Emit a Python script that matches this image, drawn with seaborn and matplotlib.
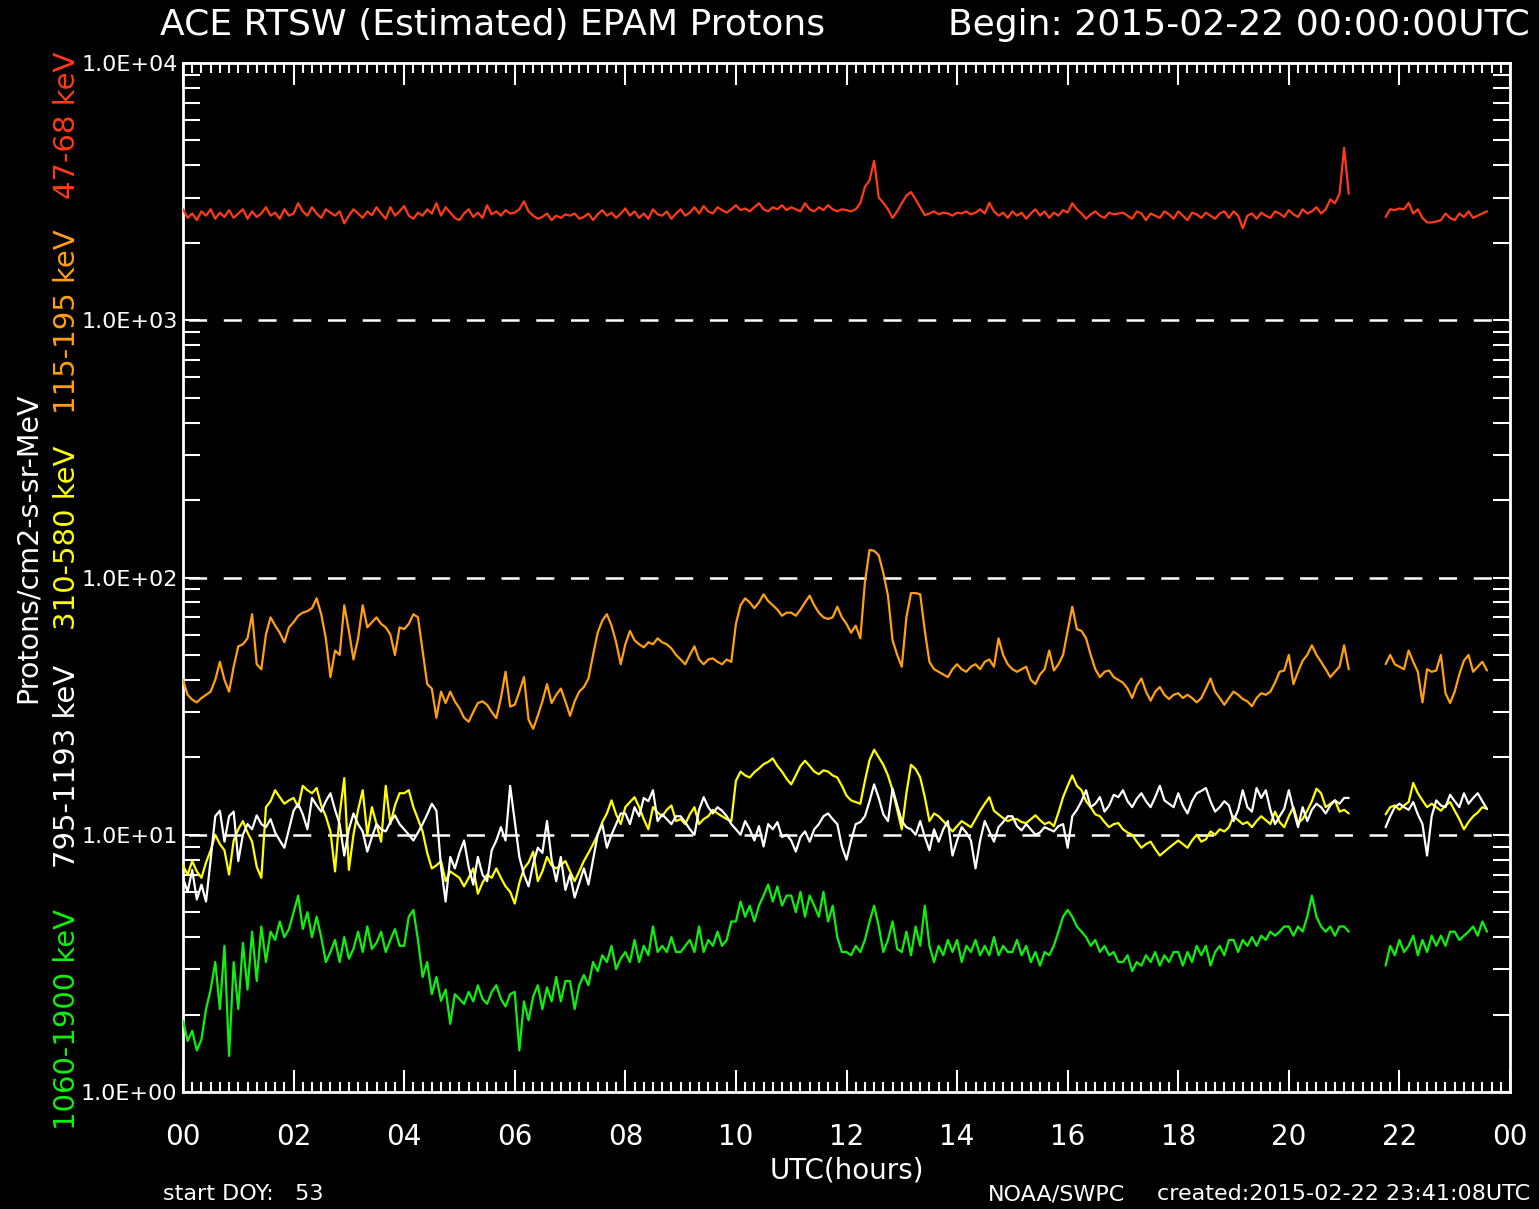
import numpy as np
import pandas as pd
import matplotlib
matplotlib.use("Agg")
import matplotlib.pyplot as plt
import matplotlib.ticker as mticker
import seaborn as sns

nan = np.nan

# 5-minute samples starting 2015-02-22 00:00 UTC, one row of 12 per hour
hours = np.arange(284) / 12.0

p47_68 = [
    2700, 2500, 2600, 2450, 2650, 2550, 2700, 2480, 2620, 2520, 2680, 2500,
    2600, 2700, 2480, 2650, 2520, 2600, 2750, 2550, 2620, 2480, 2700, 2550,
    2600, 2850, 2650, 2550, 2750, 2600, 2500, 2700, 2620, 2550, 2650, 2380,
    2550, 2700, 2600, 2500, 2650, 2560, 2750, 2600, 2480, 2750, 2550, 2650,
    2780, 2550, 2480, 2620, 2550, 2700, 2600, 2850, 2550, 2750, 2620, 2500,
    2450, 2600, 2700, 2520, 2620, 2500, 2800, 2580, 2650, 2550, 2680, 2600,
    2620, 2700, 2900, 2650, 2550, 2480, 2520, 2600, 2450, 2550, 2500, 2580,
    2550, 2600, 2480, 2520, 2600, 2450, 2580, 2680, 2550, 2620, 2500, 2600,
    2720, 2550, 2650, 2500, 2600, 2480, 2700, 2580, 2550, 2650, 2480, 2600,
    2700, 2550, 2620, 2750, 2600, 2780, 2650, 2600, 2750, 2680, 2620, 2700,
    2800, 2680, 2720, 2650, 2750, 2850, 2700, 2650, 2750, 2700, 2800, 2680,
    2750, 2700, 2650, 2850, 2700, 2650, 2750, 2680, 2800, 2700, 2650, 2700,
    2680, 2650, 2700, 2850, 3300, 3500, 4170, 3000, 2860, 2700, 2500, 2650,
    2850, 3050, 3150, 2950, 2750, 2560, 2600, 2650, 2580, 2620, 2600, 2550,
    2620, 2600, 2650, 2580, 2620, 2700, 2600, 2860, 2650, 2550, 2620, 2500,
    2650, 2550, 2620, 2480, 2600, 2700, 2550, 2650, 2500, 2620, 2550, 2680,
    2620, 2850, 2700, 2600, 2480, 2580, 2650, 2550, 2500, 2620, 2580, 2600,
    2620, 2550, 2480, 2650, 2600, 2450, 2600, 2550, 2500, 2650, 2580, 2480,
    2650, 2550, 2450, 2620, 2580, 2500, 2620, 2550, 2480, 2600, 2650, 2500,
    2650, 2550, 2280, 2550, 2600, 2480, 2620, 2550, 2500, 2650, 2600, 2520,
    2680, 2580, 2520, 2700, 2600, 2650, 2750, 2600, 2700, 2950, 2850, 3100,
    4680, 3100, nan, nan, nan, nan, nan, nan, nan, 2520, 2700, 2680,
    2720, 2700, 2860, 2600, 2700, 2500, 2400, 2400, 2420, 2450, 2600, 2500,
    2450, 2600, 2520, 2650, 2500, 2550, 2600, 2650,
]

p115_195 = [
    40, 35, 33.5, 32.7, 34, 35, 36, 40, 47, 40, 36, 45,
    54, 55, 58, 72, 46, 44, 60, 70, 65, 61, 56, 64,
    67, 71, 73, 74, 76, 83, 72, 58, 41, 52, 50, 78,
    62, 48, 58, 78, 64, 67, 70, 66, 64, 60, 50, 64,
    63, 66, 72, 70, 52, 38.5, 37, 28.5, 36, 32.5, 36, 33,
    31, 28.5, 27.5, 30, 32.5, 33, 32, 30, 28.4, 34, 43, 31.5,
    32, 36, 41, 28, 25.8, 29, 33, 38.5, 32.5, 35, 37, 33,
    29, 33, 36, 37.5, 40.5, 50, 61, 68, 72, 65, 56, 46,
    55, 62, 57, 55, 53.5, 56, 55, 58, 56, 55, 53, 50,
    48, 46, 50, 54, 48, 46, 48, 48.5, 47, 46, 48, 47,
    66, 78, 83, 80, 76, 80, 86, 81, 78, 75, 71, 73,
    73, 71, 75, 80, 85, 78, 73, 70, 69, 70, 77, 70,
    66, 61, 65, 58, 96, 128, 127, 122, 104, 85, 57, 50,
    45, 70, 87, 87, 86, 62, 47, 44, 43, 42, 41, 44,
    46, 44, 43, 45, 46, 44, 47, 48, 45, 58, 50, 46,
    44, 43, 44, 45, 40, 38.5, 42, 44, 52, 43.5, 46, 50,
    62, 77, 63, 62, 58, 50, 44, 41, 43, 43.5, 41, 40,
    39, 37, 34, 38, 40.5, 36, 33.2, 36, 37.5, 35, 33.7, 35,
    35.5, 34, 35, 34, 32.7, 34, 37, 40.5, 36, 34, 32, 34,
    36, 35, 33.7, 33, 31.6, 34, 35.5, 35, 36, 39, 43, 43.5,
    50, 38.5, 43, 47.5, 50, 54.5, 50, 47, 44, 41, 43, 45,
    54.5, 44, nan, nan, nan, nan, nan, nan, nan, 46, 50, 46,
    45, 44, 52, 47, 43, 32.7, 44, 43, 43.5, 50, 35.5, 32.5,
    36, 42, 47.5, 50, 43, 45, 47, 43.5,
]

p310_580 = [
    7.6, 7.0, 7.9, 7.2, 6.8, 7.8, 8.7, 10, 9.2, 8.7, 7.0, 9.5,
    10.5, 11.3, 10.2, 9.4, 7.5, 6.8, 12.8, 13.5, 14.9, 14.0, 13.2, 13.6,
    13.9, 12.8, 15.5, 14.9, 14.5, 15.2, 13.0, 11.8, 10.3, 7.2, 12.0, 16.6,
    7.3, 10, 12.5, 14.9, 10, 12.8, 11.0, 9.4, 15.5, 11, 13.0, 14.5,
    14.5, 14.9, 12.8, 11.5, 10.3, 8.5, 7.4, 7.6, 7.9, 6.6, 7.2, 7.0,
    6.8, 6.3, 6.8, 7.4, 5.9, 6.5, 7.0, 6.8, 7.4, 6.8, 6.3, 6.0,
    5.4, 6.5, 7.4, 7.8, 8.6, 6.6, 7.2, 8.2, 7.6, 7.4, 7.6, 7.9,
    7.2, 6.6, 7.2, 7.9, 8.5, 9.2, 10, 11.2, 12.1, 13.6, 12.0, 11,
    12.8, 13.4, 14, 12.8, 11.5, 10.5, 12.8, 12.2, 11.8, 12.5, 13, 11.3,
    11.5, 11, 12.0, 12.8, 11, 11.5, 11.8, 12.5, 12.1, 11.8, 11.5, 11.3,
    16.2, 17.6, 17.0, 16.7, 17.5, 18.1, 18.8, 19.2, 19.8, 18.5, 17.6, 16.5,
    15.7, 17.0, 18.5, 19.4, 18.5, 17.6, 17.2, 17.8, 17.6, 17.0, 16.7, 15.5,
    14.2, 13.6, 13.4, 13.2, 16.2, 19.5, 21.4, 20.0, 18.7, 17, 14.9, 12.5,
    10.5, 14.5, 18.7, 18.0, 16.7, 14, 11.3, 12.1, 11.8, 11.3, 10.8, 10.3,
    10.8, 11.3, 11.0, 10.7, 11.5, 12.4, 13.2, 14, 12.4, 12.0, 11.6, 11.3,
    11.5, 11.5, 11.2, 11.1, 11.5, 11.9, 11.4, 11, 11.2, 10.8, 12.2, 14,
    15.5, 17, 15.5, 14.9, 13.5, 12.8, 12.0, 11.8, 11.2, 10.7, 11.0, 11.1,
    10.5, 10.2, 10, 9.4, 8.9, 9.2, 9.4, 8.8, 8.3, 8.6, 8.9, 9.2,
    9.5, 9.2, 8.9, 9.5, 10, 9.4, 9.6, 10.3, 10.0, 10.5, 10.3, 10.7,
    11.8, 11.4, 11, 11.2, 10.7, 11.3, 11.8, 11.4, 11, 12.3, 11.2, 10.7,
    11.8, 12.8, 11.1, 11.5, 12.4, 13.5, 15.1, 14.5, 12.8, 13.2, 13.6, 12.3,
    12.5, 12.1, nan, nan, nan, nan, nan, nan, nan, 12.0, 12.8, 13.0,
    12.5, 13.0, 13.4, 15.9, 14.5, 13.6, 12.8, 13.2, 12.8, 12.4, 13.0, 13.4,
    12.4, 11.5, 10.5, 11.2, 11.8, 12.2, 12.8, 12.6,
]

p795_1193 = [
    6.8, 6.0, 7.3, 5.6, 6.4, 5.5, 8.0, 11.8, 12.4, 9.4, 11.8, 12.3,
    7.9, 10, 11, 10.5, 11.9, 11, 10.7, 11.5, 10.2, 9.5, 8.9, 10.5,
    12.4, 13.2, 12.0, 10.5, 13.9, 13.0, 12.3, 13.5, 14.5, 12.5, 11, 8.3,
    10.5, 12.1, 11.0, 10.3, 8.6, 9.8, 11, 10.5, 10.3, 11.2, 11.9, 11.0,
    10.5, 10.0, 9.5, 10.2, 11, 12.0, 13.2, 12.4, 7.5, 5.5, 8.2, 7.4,
    8.5, 9.5, 7.5, 6.4, 8.2, 7.0, 6.6, 8.7, 9.5, 10.7, 9.5, 15.5,
    11.3, 8.2, 7.0, 6.3, 7.7, 8.9, 8.5, 11.3, 8.0, 6.6, 8.2, 6.1,
    7.0, 5.7, 6.5, 7.4, 6.4, 8.0, 10, 11, 8.9, 10, 11, 12.1,
    12.1, 11, 12.8, 11.8, 13.9, 13.5, 14.9, 11.3, 12.0, 11.5, 11, 11.8,
    11.8, 11.2, 10.5, 10, 12.5, 14, 12.8, 12.1, 12.8, 12.4, 11.8, 11,
    10.5, 10.0, 11.3, 10.5, 9.5, 10.8, 9.0, 11, 10.5, 11.2, 9.8, 10,
    9.5, 8.6, 9.8, 10.3, 9.4, 10.5, 11, 11.8, 12.1, 11.5, 11, 9.0,
    8.0, 9.5, 11, 11.2, 11.8, 13.5, 15.7, 13.9, 12.0, 11.3, 15.1, 13.0,
    11.3, 10.7, 10.5, 10, 11.3, 9.8, 8.7, 10.5, 9.4, 10.5, 11.3, 8.3,
    9.5, 10.7, 10.2, 9.5, 7.4, 9.5, 11.3, 10.3, 9.4, 10.7, 11.2, 11.8,
    11.8, 10.8, 10.4, 11.0, 10.5, 10.0, 10.2, 10.7, 10.5, 10.3, 10.8, 11,
    8.9, 11.8, 12.5, 13.5, 14.9, 12.8, 13.2, 14, 12.3, 13.0, 14.3, 14.0,
    14.9, 13.5, 12.8, 13.8, 14.5, 13.5, 12.8, 14.0, 15.5, 13.6, 13.2, 12.8,
    14.5, 13.0, 12.1, 13.5, 14.5, 14.8, 15.2, 13.5, 12.3, 12.8, 13.5, 13.0,
    11.3, 12.5, 14.9, 12.8, 12.3, 15.2, 13.9, 14.9, 12.5, 11, 11.8, 12.6,
    14.9, 12.5, 10.7, 12.8, 11.3, 12.5, 13.2, 12.8, 12.1, 13.0, 13.6, 13.2,
    13.9, 13.9, nan, nan, nan, nan, nan, nan, nan, 10.7, 11.8, 12.8,
    13.2, 12.8, 12.5, 13.4, 12.0, 11, 8.3, 11.8, 13.6, 13.0, 12.8, 14.3,
    13.5, 12.8, 14.5, 13.2, 13.9, 14.5, 13.5, 12.6,
]

p1060_1900 = [
    1.89, 1.58, 1.73, 1.45, 1.6, 2.1, 2.5, 3.2, 2.1, 3.7, 1.38, 3.2,
    2.1, 3.8, 2.5, 4.2, 2.7, 4.4, 3.2, 4.2, 3.9, 4.6, 4.0, 4.3,
    5.0, 5.8, 4.3, 5.0, 4.0, 4.8, 4.0, 3.2, 3.5, 3.9, 3.2, 4.0,
    3.3, 3.6, 4.2, 3.5, 4.4, 3.6, 3.8, 4.2, 3.5, 3.9, 4.3, 3.7,
    3.7, 4.8, 5.1, 3.9, 2.8, 3.2, 2.4, 2.8, 2.26, 2.5, 1.84, 2.4,
    2.3, 2.2, 2.45, 2.25, 2.6, 2.3, 2.2, 2.45, 2.6, 2.3, 2.15, 2.4,
    2.45, 1.45, 2.25, 1.9, 2.35, 2.6, 2.1, 2.55, 2.25, 2.8, 2.25, 2.7,
    2.7, 2.1, 2.6, 2.85, 2.6, 3.2, 2.95, 3.4, 3.2, 3.7, 3.0, 3.3,
    3.5, 3.2, 3.9, 3.2, 3.7, 3.4, 4.4, 3.5, 3.7, 3.5, 4.0, 3.5,
    3.5, 3.7, 3.9, 3.5, 4.4, 3.5, 3.9, 3.7, 4.2, 3.7, 3.9, 4.6,
    4.6, 5.5, 4.8, 5.3, 4.6, 5.3, 5.8, 6.4, 5.5, 6.3, 5.3, 5.8,
    5.8, 5.0, 6.0, 4.8, 5.8, 5.3, 4.8, 6.0, 4.6, 5.3, 4.0, 3.5,
    3.5, 3.4, 3.7, 3.5, 3.9, 4.6, 5.3, 4.4, 3.5, 3.9, 4.6, 3.6,
    3.5, 4.2, 3.4, 4.4, 3.7, 5.3, 3.7, 3.2, 3.7, 3.4, 3.9, 3.5,
    3.9, 3.2, 3.7, 3.5, 3.9, 3.4, 3.7, 3.4, 4.0, 3.4, 3.7, 3.5,
    3.5, 3.9, 3.4, 3.7, 3.2, 3.5, 3.1, 3.5, 3.4, 3.7, 4.2, 4.8,
    5.1, 4.8, 4.4, 4.2, 4.0, 3.7, 3.9, 3.5, 3.7, 3.4, 3.5, 3.2,
    3.2, 3.4, 2.95, 3.2, 3.1, 3.4, 3.2, 3.5, 3.1, 3.4, 3.2, 3.5,
    3.5, 3.1, 3.5, 3.2, 3.7, 3.4, 3.7, 3.1, 3.5, 3.7, 3.4, 3.9,
    3.9, 3.5, 3.9, 3.7, 4.0, 3.7, 4.05, 3.9, 4.2, 4.05, 4.2, 4.4,
    4.4, 4.05, 4.4, 4.2, 4.8, 5.8, 4.8, 4.4, 4.2, 4.4, 4.05, 4.4,
    4.4, 4.2, nan, nan, nan, nan, nan, nan, nan, 3.1, 3.7, 3.4,
    3.9, 3.5, 3.7, 4.05, 3.4, 3.9, 3.5, 4.05, 3.7, 4.05, 3.7, 4.2,
    4.2, 3.9, 4.05, 4.2, 4.4, 4.05, 4.6, 4.2,
]

channel_labels = ["47-68 keV", "115-195 keV", "310-580 keV", "795-1193 keV", "1060-1900 keV"]
channel_colors = ["#ff3c14", "#ffa010", "#ffff00", "#ffffff", "#10f010"]
channel_values = [p47_68, p115_195, p310_580, p795_1193, p1060_1900]

x_tick_labels = ["00", "02", "04", "06", "08", "10", "12", "14", "16", "18", "20", "22", "00"]

sns.set_style("dark", {
    "axes.facecolor": "black", "figure.facecolor": "black",
    "axes.edgecolor": "white", "axes.grid": False,
    "text.color": "white", "axes.labelcolor": "white",
    "xtick.color": "white", "ytick.color": "white",
    "xtick.bottom": True, "xtick.top": True,
    "ytick.left": True, "ytick.right": True,
})
plt.rcParams["font.family"] = ["DejaVu Sans"]
plt.rcParams["lines.scale_dashes"] = False

W, H = 1539, 1209
fig = plt.figure(figsize=(W / 100, H / 100), dpi=100)
ax = fig.add_axes([183 / W, 1 - 1092 / H, (1510 - 183) / W, (1092 - 63) / H])
ax.set_yscale("log")
ax.set_xlim(0, 24)
ax.set_ylim(1, 1e4)

# dashed reference lines at each decade
for level in (10, 100, 1000):
    ax.axhline(level, color="white", lw=1.8, ls=(21, (13, 12)), zorder=1)

for values, color in zip(channel_values, channel_colors):
    frame = pd.DataFrame({"hour": hours, "flux": values})
    frame["run"] = frame["flux"].isna().cumsum()
    frame = frame.dropna()
    sns.lineplot(data=frame, x="hour", y="flux", units="run", estimator=None,
                 color=color, lw=1.6, ax=ax, legend=False, zorder=3)

ax.set_xticks(np.arange(0, 25, 2))
ax.set_xticklabels(x_tick_labels)
ax.xaxis.set_minor_locator(mticker.MultipleLocator(1 / 6))
ax.yaxis.set_major_locator(mticker.LogLocator(base=10, numticks=10))
ax.yaxis.set_minor_locator(mticker.LogLocator(base=10, subs=np.arange(2, 10), numticks=10))
ax.yaxis.set_major_formatter(mticker.FuncFormatter(lambda v, _: f"{v:.1E}"))
ax.yaxis.set_minor_formatter(mticker.NullFormatter())

ax.tick_params(axis="both", which="both", direction="in",
               top=True, bottom=True, left=True, right=True,
               colors="white", width=1.5)
ax.tick_params(axis="x", which="major", length=16, pad=22, labelsize=20)
ax.tick_params(axis="x", which="minor", length=7)
ax.tick_params(axis="y", which="major", length=12, pad=4, labelsize=16)
ax.tick_params(axis="y", which="minor", length=12)
for sp in ax.spines.values():
    sp.set_color("white")
    sp.set_linewidth(2)

ax.set_xlabel("UTC(hours)", fontsize=20, color="white", labelpad=4)
ax.set_ylabel("")

fig.text(160 / W, 1 - 25 / H, "ACE RTSW (Estimated) EPAM Protons", fontsize=26,
         color="white", ha="left", va="center")
fig.text(1530 / W, 1 - 25 / H, "Begin: 2015-02-22 00:00:00UTC", fontsize=26,
         color="white", ha="right", va="center")
fig.text(163 / W, 1 - 1194 / H, "start DOY:   53", fontsize=16, color="white",
         ha="left", va="center")
fig.text(988 / W, 1 - 1194 / H, "NOAA/SWPC", fontsize=16, color="white",
         ha="left", va="center")
fig.text(1530 / W, 1 - 1194 / H, "created:2015-02-22 23:41:08UTC", fontsize=16,
         color="white", ha="right", va="center")

# channel names stacked along the y axis, each in its trace colour
label_y = [125, 322, 538, 766, 1020]
for text, color, yc in zip(channel_labels, channel_colors, label_y):
    fig.text(67 / W, 1 - yc / H, text, rotation=90, fontsize=21, color=color,
             ha="center", va="center")
fig.text(28 / W, 1 - 548 / H, "Protons/cm2-s-sr-MeV", rotation=90, fontsize=20.5,
         color="white", ha="center", va="center")

fig.savefig("out.png", dpi=100, facecolor="black")
